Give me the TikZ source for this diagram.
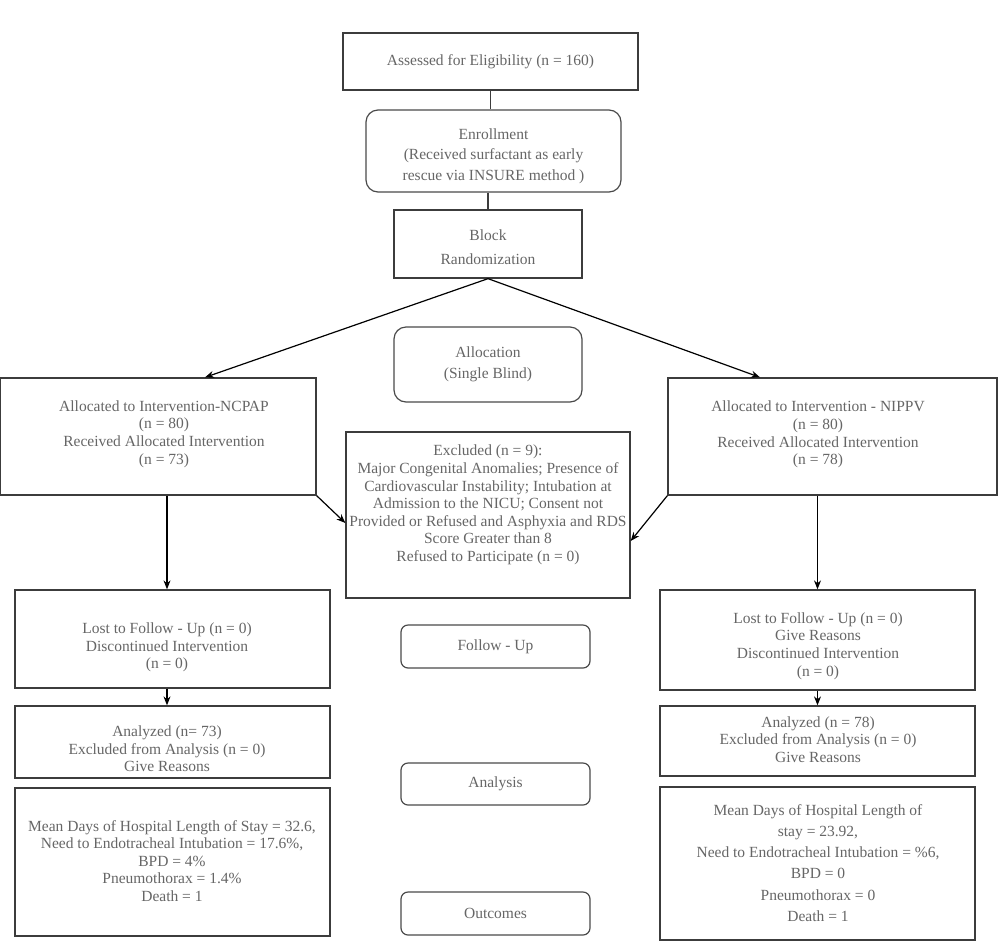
\documentclass[tikz,border=0pt]{standalone}
\usepackage{fontspec}
\setmainfont{Liberation Serif}
\usetikzlibrary{arrows.meta}
\definecolor{txtgray}{HTML}{666666}
\definecolor{linegray}{HTML}{3C3C3C}
\definecolor{roundgray}{HTML}{4A4A4A}
\begin{document}
\begin{tikzpicture}[x=1pt,y=-1pt,
  box/.style={draw=linegray, line width=1.3pt, rectangle, inner sep=0pt},
  rbox/.style={draw=roundgray, line width=1.2pt, rounded corners=12pt, rectangle, inner sep=0pt},
  txt/.style={text=txtgray, align=center, font=\fontsize{15.5}{17.6}\selectfont, inner sep=0pt},
  arr/.style={draw=black, line width=1.2pt, -{Stealth[length=9pt,width=7pt]}},
  ln/.style={draw=linegray, line width=1.3pt}
]
\useasboundingbox[fill=white] (0,0) rectangle (1000,943);

% top chain
\node[box, minimum width=295, minimum height=57] (assess) at (490.5,61.5) {};
\node[txt] (assess-t) at (assess.center) {Assessed for Eligibility (n = 160)};

\node[rbox, minimum width=255, minimum height=82] (enrol) at (493.5,151) {};
\node[txt, font=\fontsize{15.5}{20.5}\selectfont] (enrol-t) at (493.5,156) {Enrollment\\(Received surfactant as early\\rescue via INSURE method )};

\node[box, minimum width=188, minimum height=68] (block) at (488,244) {};
\node[txt, font=\fontsize{15.5}{24}\selectfont] (block-t) at (488,247) {Block\\Randomization};

\draw[ln] (assess.south) -- (assess.south |- enrol.north);
\draw[ln] (enrol.south -| block.north) -- (block.north);

% allocation
\node[rbox, minimum width=188, minimum height=75] (alloc) at (488,364.5) {};
\node[txt, font=\fontsize{15.5}{21}\selectfont] (alloc-t) at (alloc.center) {Allocation\\(Single Blind)};

\node[box, minimum width=316, minimum height=117] (ncpap) at (158,436.5) {};
\node[txt] (ncpap-t) at (164,434) {Allocated to Intervention-NCPAP\\(n = 80)\\Received Allocated Intervention\\(n = 73)};

\node[box, minimum width=329, minimum height=117] (nippv) at (832.5,436.5) {};
\node[txt] (nippv-t) at (818,434.5) {Allocated to Intervention - NIPPV\\(n = 80)\\Received Allocated Intervention\\(n = 78)};

\node[box, minimum width=284, minimum height=166] (excl) at (488,515) {};
\node[txt] (excl-t) at (488,505) {Excluded (n = 9):\\Major Congenital Anomalies; Presence of\\Cardiovascular Instability; Intubation at\\Admission to the NICU; Consent not\\Provided or Refused and Asphyxia and RDS\\Score Greater than 8\\Refused to Participate (n = 0)};

\draw[arr] (block.south) -- ([xshift=47pt]ncpap.north);
\draw[arr] (block.south) -- ([xshift=-72.5pt]nippv.north);
\draw[arr] (ncpap.south east) -- ([yshift=-8pt]excl.west);
\draw[arr] (nippv.south west) -- ([yshift=-26pt]excl.east);

% follow-up
\node[box, minimum width=315, minimum height=98] (llost) at (172.5,639) {};
\node[txt] (llost-t) at (167,647.5) {Lost to Follow - Up (n = 0)\\Discontinued Intervention\\(n = 0)};

\node[box, minimum width=315, minimum height=100] (rlost) at (817.5,640) {};
\node[txt] (rlost-t) at (818,646) {Lost to Follow - Up (n = 0)\\Give Reasons\\Discontinued Intervention\\(n = 0)};

\node[rbox, rounded corners=7pt, minimum width=189, minimum height=43] (follow) at (495.5,646.5) {};
\node[txt] (follow-t) at (follow.center) {Follow - Up};

\draw[arr] ([xshift=9pt]ncpap.south) -- ([xshift=9pt]ncpap.south |- llost.north);
\draw[arr] (nippv.south -| rlost.north) -- (rlost.north);

% analysis
\node[box, minimum width=315, minimum height=72] (lana) at (172.5,742) {};
\node[txt] (lana-t) at (167,749) {Analyzed (n= 73)\\Excluded from Analysis (n = 0)\\Give Reasons};

\node[box, minimum width=315, minimum height=70] (rana) at (817.5,741) {};
\node[txt] (rana-t) at (818,739.5) {Analyzed (n = 78)\\Excluded from Analysis (n = 0)\\Give Reasons};

\node[rbox, rounded corners=7pt, minimum width=189, minimum height=42] (analysis) at (495.5,784) {};
\node[txt] (analysis-t) at (analysis.center) {Analysis};

\draw[arr] ([xshift=-5.5pt]llost.south) -- ([xshift=-5.5pt]lana.north);
\draw[arr] (rlost.south) -- (rana.north);

% outcomes
\node[box, minimum width=315, minimum height=148] (lmean) at (172.5,862) {};
\node[txt] (lmean-t) at (172,861) {Mean Days of Hospital Length of Stay = 32.6,\\Need to Endotracheal Intubation = 17.6\%,\\BPD = 4\%\\Pneumothorax = 1.4\%\\Death = 1};

\node[box, minimum width=315, minimum height=153] (rmean) at (817.5,863.5) {};
\node[txt, font=\fontsize{15.5}{21.2}\selectfont] (rmean-t) at (818,863) {Mean Days of Hospital Length of\\stay = 23.92,\\Need to Endotracheal Intubation = \%6,\\BPD = 0\\Pneumothorax = 0\\Death = 1};

\node[rbox, rounded corners=7pt, minimum width=189, minimum height=43] (outc) at (495.5,913.5) {};
\node[txt] (outc-t) at (outc.center) {Outcomes};

\end{tikzpicture}
\end{document}
